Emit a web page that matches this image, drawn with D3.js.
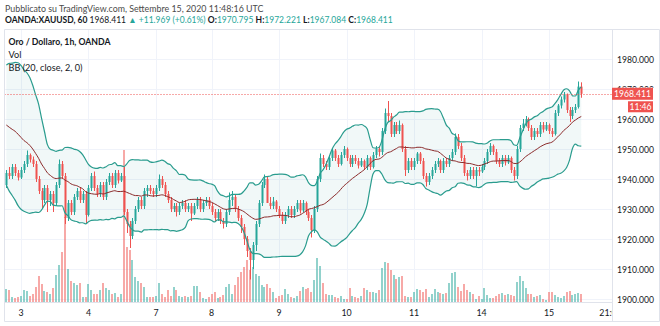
<!DOCTYPE html>
<html><head><meta charset="utf-8">
<script src="https://cdn.jsdelivr.net/npm/d3@7"></script>
<style>body{margin:0;background:#fff}svg{display:block}text{font-family:Lato,"Open Sans",sans-serif}</style>
</head><body><svg id="c" width="660" height="326"></svg>
<script>
// ---- data (OANDA:XAUUSD, 1h) ----
const warmupCloses = [1956,1958,1955,1960,1964,1966,1962,1965,1969,1970,1968,1971,1966,1963,1952,1947,1944,1942,1940];
const opens = [
1938,1942,1941,1944,1942,1940.5,1943,1945,1948,1946.5,
1945,1940,1936,1933,1937,1933,1935,1932,1938,1945,
1941,1927,1932,1929,1934,1936,1933,1935,1928,1937,
1941,1937,1935,1938,1934,1939,1941,1938,1942,1939.5,
1941,1929,1925,1921,1926,1930,1933,1931,1936,1937,
1936,1935,1937,1940,1938,1935,1933,1930,1931,1929,
1931,1932,1930,1931,1928.5,1931,1933,1930,1932,1933,
1931,1929,1927,1929,1926,1925,1929,1933,1934,1930,
1927,1924,1920,1916,1913,1918,1925,1932,1938,1940,
1932,1931,1932.5,1930,1928,1926,1928,1930,1928,1930,
1932,1929.5,1932,1929,1927,1923,1930,1940,1947,1945,
1944,1947,1949.5,1947,1945,1948,1950,1947,1945,1947,
1946,1944.5,1946,1944,1947,1944,1948,1950,1949,1956,
1962,1961,1955,1958,1956,1958,1950,1943,1946,1944,
1946,1948.5,1946,1941,1939,1941,1943,1945,1946,1943,
1946,1945,1947,1949,1954,1951,1947,1942,1941,1943,
1941,1943,1942.5,1944,1946,1949,1951,1949,1946,1945,
1947,1945.5,1947,1943,1941,1950,1957,1958.5,1960,1957,
1954,1956,1955,1958,1956.5,1958,1956,1955,1962,1964.5,
1966.5,1968,1963,1961,1963,1964,1970.795];
const highs = [
1943,1944,1945,1945,1943,1944,1946,1949.5,1948.5,1947.5,
1946,1941,1937,1938,1938,1936,1936,1939,1946.5,1946,
1942,1933,1933,1935,1937,1937,1936,1936,1938,1942,
1942.5,1938,1939,1939,1940,1942,1942,1943,1943,1942,
1944,1930,1926,1927,1931,1934,1934,1937,1938,1938,
1937,1938,1941.5,1941,1939,1936,1934,1932,1932,1932,
1933,1933,1932,1932,1932,1934,1934,1933,1934,1934,
1932,1930,1930,1930,1927,1930,1935.5,1936,1935,1931,
1928,1925,1921,1917,1919,1926,1933,1939,1941.5,1941,
1934,1934,1933,1931,1929,1929,1931,1931,1931,1933,
1933,1933,1932.5,1930,1928,1931,1941,1948.5,1948,1946,
1948,1950,1950,1948,1949,1951,1950.5,1948,1948,1948,
1947,1947,1946.5,1948,1947.5,1949,1951,1951,1957,1963.5,
1966,1962,1959,1959,1959.5,1958.5,1951,1947,1947,1947,
1949,1949,1947,1942,1942,1944,1946,1947,1946.5,1947,
1947,1948,1950,1955.2,1955,1952,1948,1943,1944,1944,
1944,1944,1945,1947,1950,1952,1951.5,1950,1947,1948,
1948,1948,1947.5,1944,1951,1958,1960,1961,1960.5,1958,
1957,1957,1959,1959,1959,1958.5,1957,1963,1965,1967.5,
1969,1968.5,1964,1964,1965,1972.5,1972.221];
const lows = [
1937,1940,1940,1941,1939.5,1940,1942,1944,1945.5,1944,
1939,1935,1930,1932,1929,1931,1929,1931,1937,1940,
1925,1926,1928,1928,1933,1932,1932,1925,1927.5,1936,
1936,1934,1934,1933,1933,1938,1937,1937,1938.5,1939,
1928,1922,1917,1920,1925,1929,1930,1930,1934,1935,
1934,1934,1936,1937,1934,1932,1929,1929,1927.5,1928,
1930,1929,1929,1926,1928,1930,1929,1929,1931,1930,
1928,1926,1926,1925,1923.5,1924,1928,1931,1929,1926,
1922,1918,1914,1906.5,1910,1916,1924,1931,1937,1932,
1930,1930,1929,1927,1925,1925,1927,1927,1927,1929,
1928.5,1929,1928,1926,1920.5,1922,1929,1939,1944,1943,
1943,1946,1946,1944,1944.5,1947,1946,1944,1944,1945,
1943.5,1944,1943,1943,1943,1943.5,1947,1947.5,1948,1955,
1959,1954,1954,1955,1955,1949,1941,1942,1943,1943,
1945,1945,1940,1937.5,1938,1940,1942,1944,1942,1942,
1944,1944,1946,1948,1950,1946,1941,1939.5,1940,1940,
1937.5,1941,1942,1943,1945,1948,1948,1945,1944,1944,
1944.5,1945,1942,1939.5,1940,1949,1956,1957.5,1956,1953,
1953,1954,1954,1955.5,1956,1955,1954,1954.5,1961,1963.5,
1965.5,1962,1959,1960,1962,1963.5,1967.084];
const closes = [
1942,1941,1944,1942,1940.5,1943,1945,1948,1946.5,1945,
1940,1936,1933,1937,1933,1935,1932,1938,1945,1941,
1927,1932,1929,1934,1936,1933,1935,1928,1937,1941,
1937,1935,1938,1934,1939,1941,1938,1942,1939.5,1941,
1929,1925,1921,1926,1930,1933,1931,1936,1937,1936,
1935,1937,1940,1938,1935,1933,1930,1931,1929,1931,
1932,1930,1931,1928.5,1931,1933,1930,1932,1933,1931,
1929,1927,1929,1926,1925,1929,1933,1934,1930,1927,
1924,1920,1916,1913,1918,1925,1932,1938,1940,1932,
1931,1932.5,1930,1928,1926,1928,1930,1928,1930,1932,
1929.5,1932,1929,1927,1923,1930,1940,1947,1945,1944,
1947,1949.5,1947,1945,1948,1950,1947,1945,1947,1946,
1944.5,1946,1944,1947,1944,1948,1950,1949,1956,1962,
1961,1955,1958,1956,1958,1950,1943,1946,1944,1946,
1948.5,1946,1941,1939,1941,1943,1945,1946,1943,1946,
1945,1947,1949,1954,1951,1947,1942,1941,1943,1941,
1943,1942.5,1944,1946,1949,1951,1949,1946,1945,1947,
1945.5,1947,1943,1941,1950,1957,1958.5,1960,1957,1954,
1956,1955,1958,1956.5,1958,1956,1955,1962,1964.5,1966.5,
1968,1963,1961,1963,1964,1970.8,1968.411];
const volumes = [
13,12,5,4,5,6,12,11,6,8,
15,26,18,11,10,8,14,27,37,50,
85,33,21,19,17,19,5,5,18,12,
8,8,12,19,14,12,8,9,5,8,
152,55,52,42,25,21,19,15,5,5,
5,6,19,8,5,12,6,15,12,6,
5,6,5,6,16,16,10,4,3,5,
8,10,4,5,7,15,18,8,17,25,
30,35,42,32,35,28,26,17,15,18,
14,10,4,6,7,13,8,5,4,6,
11,15,13,14,10,22,44,36,19,8,
7,7,5,4,6,3,3,14,6,5,
4,6,14,12,10,10,9,12,34,40,
39,32,27,23,25,26,6,5,5,10,
13,12,10,13,5,8,13,10,9,8,
9,19,29,30,15,11,18,12,10,8,
3,6,3,14,7,4,4,6,8,9,
7,8,7,6,20,26,21,14,8,8,
5,6,7,3,2,10,10,7,5,4,
6,10,11,7,8,9,8];
const timeTickIndex = [5,28,51,70,93,116,139,162,185,206];
const timeTickLabels = ["3","4","7","8","9","10","11","14","15","21:00"];
const priceTicks = [1900,1910,1920,1930,1940,1950,1960,1970,1980];
const lastPrice = 1968.411;
const countdown = "11:46";
const bbLength = 20, bbMult = 2;

// ---- layout ----
const UP="#26a69a", DN="#ef5350";
const svg = d3.select("#c");
const defs = svg.append("defs");
const P = {l:4.5, r:612.5, t:29.5, b:302.5, bottom:321.5};
const x = d3.scaleLinear().domain([5,185]).range([21,549]);
const y = d3.scaleLinear().domain([1900,1980]).range([299,59]);
const vy = d3.scaleLinear().domain([0,d3.max(volumes)]).range([302,150]);

defs.append("clipPath").attr("id","plot")
  .append("rect").attr("x",P.l).attr("y",P.t).attr("width",P.r-P.l).attr("height",P.b-P.t);

// grid
const g = svg.append("g");
g.selectAll(".vg").data(timeTickIndex.slice(0,9)).join("line")
  .attr("x1",d=>Math.round(x(d))+0.5).attr("x2",d=>Math.round(x(d))+0.5)
  .attr("y1",P.t).attr("y2",P.b).attr("stroke","#f0f3fa");
g.selectAll(".hg").data(priceTicks).join("line")
  .attr("x1",P.l).attr("x2",P.r).attr("y1",d=>Math.round(y(d))+0.5).attr("y2",d=>Math.round(y(d))+0.5)
  .attr("stroke","#f0f3fa");

const plot = svg.append("g").attr("clip-path","url(#plot)");

// volume
plot.selectAll(".vol").data(volumes).join("rect")
  .attr("x",(d,i)=>Math.round(x(i))-1).attr("width",2)
  .attr("y",d=>vy(d)).attr("height",d=>302-vy(d))
  .attr("fill",(d,i)=>closes[i]>=opens[i]?UP:DN).attr("fill-opacity",0.5);

// Bollinger bands from closes
const all = warmupCloses.concat(closes);
const bb = closes.map((c,i)=>{
  const w = all.slice(i+warmupCloses.length-bbLength+1, i+warmupCloses.length+1);
  const m = d3.mean(w);
  const sd = Math.sqrt(d3.mean(w,v=>(v-m)*(v-m)));
  return {i, m, u:m+bbMult*sd, l:m-bbMult*sd};
});
plot.append("path").datum(bb)
  .attr("d",d3.area().x(d=>x(d.i)).y0(d=>y(d.l)).y1(d=>y(d.u)).curve(d3.curveMonotoneX))
  .attr("fill","#198787").attr("fill-opacity",0.06);

// candles
const cg = plot.append("g");
closes.forEach((c,i)=>{
  const col = c>=opens[i]?UP:DN;
  const cx = Math.round(x(i));
  cg.append("line").attr("x1",cx+0.5).attr("x2",cx+0.5).attr("y1",y(highs[i])).attr("y2",y(lows[i]))
    .attr("stroke",col).attr("stroke-width",1);
  const top = y(Math.max(c,opens[i])), bot = y(Math.min(c,opens[i]));
  cg.append("rect").attr("x",cx-0.5).attr("width",2).attr("y",top).attr("height",Math.max(1,bot-top)).attr("fill",col);
});

const line = k=>d3.line().x(d=>x(d.i)).y(d=>y(d[k])).curve(d3.curveMonotoneX);
plot.append("path").datum(bb).attr("d",line("u")).attr("fill","none").attr("stroke","#2a9c8e").attr("stroke-width",1.2);
plot.append("path").datum(bb).attr("d",line("l")).attr("fill","none").attr("stroke","#2a9c8e").attr("stroke-width",1.2);
plot.append("path").datum(bb).attr("d",line("m")).attr("fill","none").attr("stroke","#8b2b2b").attr("stroke-width",1);

// last price line
plot.append("line").attr("x1",P.l).attr("x2",P.r).attr("y1",Math.round(y(lastPrice))+0.5).attr("y2",Math.round(y(lastPrice))+0.5)
  .attr("stroke",DN).attr("stroke-dasharray","1,2");

// frame
const fr = svg.append("g").attr("stroke","#e0e3eb").attr("fill","none");
fr.append("line").attr("x1",P.l).attr("x2",659.5).attr("y1",P.t).attr("y2",P.t);
fr.append("line").attr("x1",P.l).attr("x2",659.5).attr("y1",P.bottom).attr("y2",P.bottom);
fr.append("line").attr("x1",P.l).attr("x2",P.l).attr("y1",P.t).attr("y2",P.bottom);
fr.append("line").attr("x1",659.5).attr("x2",659.5).attr("y1",P.t).attr("y2",P.bottom);
fr.append("line").attr("x1",P.r).attr("x2",P.r).attr("y1",P.t).attr("y2",P.bottom);
fr.append("line").attr("x1",P.l).attr("x2",P.r).attr("y1",P.b).attr("y2",P.b);

// price axis labels (label hidden under the last-price tag is clipped like the original)
const ly = y(lastPrice);
defs.append("clipPath").attr("id","axclip").append("rect").attr("x",612).attr("y",0).attr("width",48).attr("height",ly-6);
svg.append("g").selectAll("text").data(priceTicks).join("text")
  .attr("x",617).attr("y",d=>y(d)+3.5).attr("font-size",8.6).attr("fill","#131722")
  .attr("clip-path",d=>Math.abs(y(d)-ly)<12?"url(#axclip)":null)
  .text(d=>d3.format(".3f")(d));

// last price tag
svg.append("rect").attr("x",612).attr("y",ly-6).attr("width",41).attr("height",12).attr("fill",DN);
svg.append("text").attr("x",632.5).attr("y",ly+3.2).attr("text-anchor","middle").attr("font-size",8.6).attr("fill","#fff").text(d3.format(".3f")(lastPrice));
svg.append("rect").attr("x",628).attr("y",ly+7.5).attr("width",25).attr("height",11).attr("fill",DN);
svg.append("text").attr("x",640.5).attr("y",ly+16).attr("text-anchor","middle").attr("font-size",8.6).attr("fill","#fff").text(countdown);

// time labels
defs.append("clipPath").attr("id","tclip").append("rect").attr("x",0).attr("y",303).attr("width",612).attr("height",18);
const tl = svg.append("g").attr("clip-path","url(#tclip)");
tl.selectAll("text").data(timeTickIndex).join("text")
  .attr("x",d=>x(d)).attr("y",316).attr("text-anchor","middle").attr("font-size",8.8).attr("fill","#131722")
  .text((d,i)=>timeTickLabels[i]);

// header
function fit(t,w){const n=t.node();const cur=n.getComputedTextLength();t.attr("font-size",parseFloat(t.attr("font-size"))*w/cur);}
const h1 = svg.append("text").attr("x",5).attr("y",11.5).attr("font-size",9).attr("fill","#4a4a4a")
  .text("Pubblicato su TradingView.com, Settembre 15, 2020 11:48:16 UTC");
fit(h1,259);
const parts = [["OANDA:XAUUSD, 60 ",1,"#131722"],["1968.411 ",0,"#131722"],["▲ +11.969 (+0.61%) ",0,UP],
 ["O:",1,"#131722"],["1970.795 ",0,UP],["H:",1,"#131722"],["1972.221 ",0,UP],["L:",1,"#131722"],["1967.084 ",0,UP],["C:",1,"#131722"],["1968.411",0,UP]];
const h2 = svg.append("text").attr("x",5).attr("y",22.5).attr("font-size",9);
parts.forEach(p=>h2.append("tspan").text(p[0]).attr("font-weight",p[1]?700:400).attr("fill",p[2]));
fit(h2,388);
const lg1 = svg.append("text").attr("x",8.5).attr("y",45).attr("font-size",9.5).attr("font-weight",700).attr("fill","#131722").text("Oro / Dollaro, 1h, OANDA");
fit(lg1,102);
const lg2 = svg.append("text").attr("x",8.5).attr("y",57.5).attr("font-size",9.5).attr("fill","#131722").text("Vol");
const lg3 = svg.append("text").attr("x",8.5).attr("y",71).attr("font-size",9.5).attr("fill","#131722").text("BB (20, close, 2, 0)");
fit(lg3,74);
lg2.attr("font-size",lg3.attr("font-size"));
</script></body></html>
